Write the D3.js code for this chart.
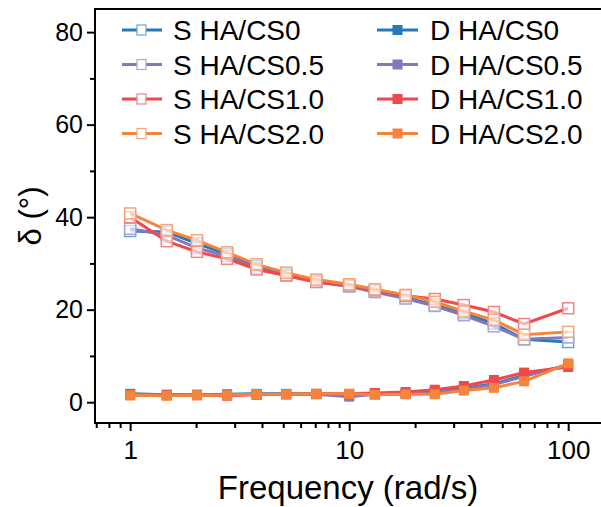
<!DOCTYPE html>
<html><head><meta charset="utf-8">
<script src="https://cdn.jsdelivr.net/npm/d3@7"></script>
<style>body{margin:0;background:#fff}svg{display:block}text{font-family:"Liberation Sans",Arial,sans-serif;fill:#000}</style>
</head><body><svg id="c" width="601" height="507"></svg>
<script>
const freq = [1, 1.47, 2.02, 2.77, 3.78, 5.16, 7.08, 10, 13.1, 18.1, 24.6, 33.4, 45.8, 62.9, 100];
const sCS0   = [37.0, 36.8, 34.3, 32.0, 29.4, 27.6, 26.2, 25.2, 24.0, 22.6, 21.0, 19.2, 17.0, 13.6, 13.0];
const sCS05  = [37.5, 36.1, 33.3, 31.6, 29.0, 27.4, 26.0, 25.0, 23.8, 22.4, 20.8, 18.8, 16.4, 13.6, 14.0];
const sCS10  = [40.0, 34.8, 32.5, 31.0, 28.7, 27.4, 26.0, 25.2, 24.2, 23.0, 22.3, 21.0, 19.5, 16.9, 20.3];
const sCS20  = [40.8, 37.2, 35.0, 32.4, 29.8, 28.0, 26.5, 25.5, 24.4, 23.2, 21.7, 19.6, 17.8, 14.6, 15.2];
const dCS0   = [1.8, 1.6, 1.6, 1.7, 1.8, 1.8, 1.8, 1.6, 1.8, 1.9, 2.2, 3.0, 4.0, 5.8, 8.0];
const dCS05  = [1.7, 1.6, 1.6, 1.6, 1.7, 1.7, 1.7, 1.2, 1.7, 1.8, 2.1, 2.8, 3.8, 5.6, 8.0];
const dCS10  = [1.5, 1.5, 1.5, 1.4, 1.6, 1.7, 1.8, 1.8, 2.0, 2.2, 2.7, 3.5, 4.8, 6.4, 7.6];
const dCS20  = [1.5, 1.4, 1.5, 1.5, 1.7, 1.7, 1.8, 1.8, 1.6, 1.7, 1.7, 2.5, 3.1, 4.5, 8.4];
const sLabels = ["S HA/CS0", "S HA/CS0.5", "S HA/CS1.0", "S HA/CS2.0"];
const dLabels = ["D HA/CS0", "D HA/CS0.5", "D HA/CS1.0", "D HA/CS2.0"];
const colors = ["#2479b6", "#8079bd", "#f2474b", "#f5853d"];
const lightColors = ["#6aa6cf", "#aaa6d6", "#f08585", "#f3a77a"];
const yTicks = [0, 20, 40, 60, 80];
const xTicks = [1, 10, 100];

const svg = d3.select("#c");
const L = 95, R = 602, T = 9, B = 423;
const x = d3.scaleLog().domain([0.691, 142.7]).range([L, R]);
const y = d3.scaleLinear().domain([-4.5, 85]).range([B, T]);

// frame
svg.append("rect").attr("x", L).attr("y", T).attr("width", R - L).attr("height", B - T)
  .attr("fill", "none").attr("stroke", "#000").attr("stroke-width", 2);

// y axis
const yAx = svg.append("g").attr("transform", `translate(${L},0)`)
  .call(d3.axisLeft(y).tickValues(yTicks).tickSize(8).tickPadding(4).tickFormat(d3.format("d")));
yAx.select(".domain").remove();
yAx.selectAll("line").attr("stroke", "#000").attr("stroke-width", 2);
yAx.selectAll("text").attr("font-size", 25).attr("font-family", "Liberation Sans, Arial");
svg.append("g").attr("transform", `translate(${L},0)`)
  .call(d3.axisLeft(y).tickValues([10, 30, 50, 70]).tickSize(5).tickFormat(""))
  .call(g => { g.select(".domain").remove(); g.selectAll("line").attr("stroke", "#000").attr("stroke-width", 2); });

// x axis
const xAx = svg.append("g").attr("transform", `translate(0,${B})`)
  .call(d3.axisBottom(x).tickValues(xTicks).tickSize(8).tickPadding(10).tickFormat(d3.format("d")));
xAx.select(".domain").remove();
xAx.selectAll("line").attr("stroke", "#000").attr("stroke-width", 2);
xAx.selectAll("text").attr("font-size", 26).attr("font-family", "Liberation Sans, Arial");
const minorX = [0.7, 0.8, 0.9, 2, 3, 4, 5, 6, 7, 8, 9, 20, 30, 40, 50, 60, 70, 80, 90];
svg.append("g").attr("transform", `translate(0,${B})`)
  .call(d3.axisBottom(x).tickValues(minorX).tickSize(5).tickFormat(""))
  .call(g => { g.select(".domain").remove(); g.selectAll("line").attr("stroke", "#000").attr("stroke-width", 2); });

// titles
svg.append("text").attr("x", 348).attr("y", 499).attr("text-anchor", "middle")
  .attr("font-size", 33).text("Frequency (rad/s)");
svg.append("text").attr("transform", "translate(41,216) rotate(-90)").attr("text-anchor", "middle")
  .attr("font-size", 31).text("δ (°)");

const line = d3.line().x((d, i) => x(freq[i])).y(d => y(d));
const sData = [sCS0, sCS05, sCS10, sCS20];
const dData = [dCS0, dCS05, dCS10, dCS20];
const plot = svg.append("g");

sData.forEach((vals, k) => {
  plot.append("path").attr("d", line(vals)).attr("fill", "none")
    .attr("stroke", colors[k]).attr("stroke-width", 3);
  plot.selectAll(null).data(vals).enter().append("rect")
    .attr("x", (d, i) => x(freq[i]) - 5.5).attr("y", d => y(d) - 5.5)
    .attr("width", 11).attr("height", 11)
    .attr("fill", "#fff").attr("fill-opacity", 0.6).attr("stroke", lightColors[k]).attr("stroke-width", 1.5);
});
dData.forEach((vals, k) => {
  plot.append("path").attr("d", line(vals)).attr("fill", "none")
    .attr("stroke", colors[k]).attr("stroke-width", 3);
  plot.selectAll(null).data(vals).enter().append("rect")
    .attr("x", (d, i) => x(freq[i]) - 5).attr("y", d => y(d) - 5)
    .attr("width", 10).attr("height", 10).attr("fill", colors[k]);
});

// legend
const rowY = [30, 64.5, 99, 133.5];
const leg = svg.append("g");
sLabels.forEach((lab, k) => {
  leg.append("line").attr("x1", 122).attr("x2", 162).attr("y1", rowY[k]).attr("y2", rowY[k])
    .attr("stroke", colors[k]).attr("stroke-width", 3);
  leg.append("rect").attr("x", 137).attr("y", rowY[k] - 5).attr("width", 9).attr("height", 10)
    .attr("fill", "#fff").attr("stroke", lightColors[k]).attr("stroke-width", 1.2);
  leg.append("text").attr("x", 173).attr("y", rowY[k] + 10).attr("font-size", 28).text(lab);
});
dLabels.forEach((lab, k) => {
  leg.append("line").attr("x1", 377).attr("x2", 418).attr("y1", rowY[k]).attr("y2", rowY[k])
    .attr("stroke", colors[k]).attr("stroke-width", 3);
  leg.append("rect").attr("x", 392.5).attr("y", rowY[k] - 5).attr("width", 10).attr("height", 10)
    .attr("fill", colors[k]);
  leg.append("text").attr("x", 430).attr("y", rowY[k] + 10).attr("font-size", 28).text(lab);
});
</script></body></html>
